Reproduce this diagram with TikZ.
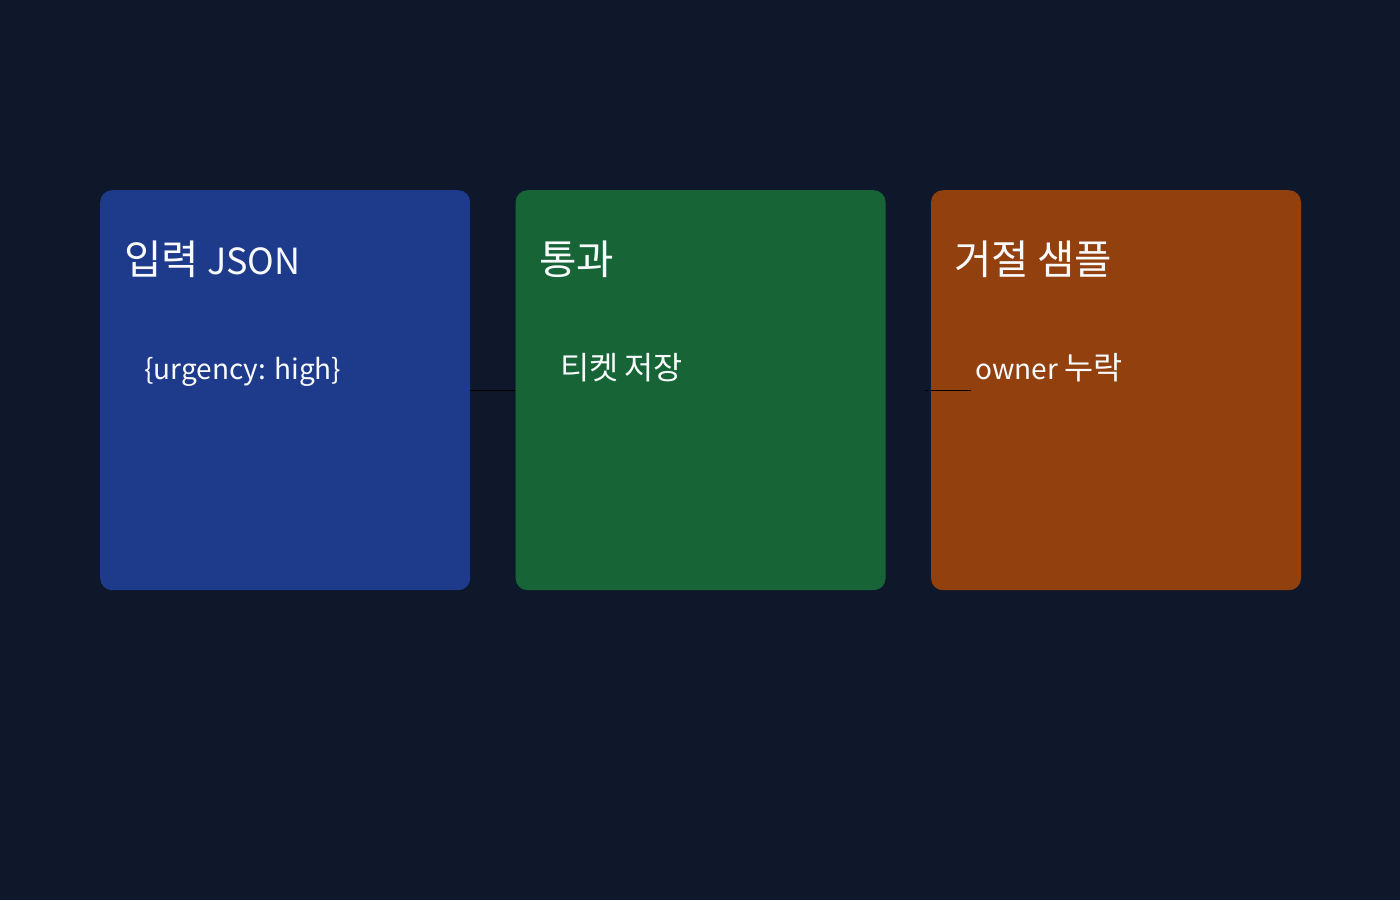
\documentclass[tikz,border=0pt]{standalone}
\usepackage{fontspec}
\setmainfont{Noto Sans CJK KR}
\newfontfamily\hwfont[Scale=1.13]{Noto Sans CJK KR}
\newcommand{\hw}[1]{{\hwfont #1}}
\usetikzlibrary{positioning}
\definecolor{bgnavy}{HTML}{0F172A}
\definecolor{inblue}{HTML}{1E3A8A}
\definecolor{passgreen}{HTML}{176537}
\definecolor{rejorange}{HTML}{92400E}
\definecolor{txtwhite}{HTML}{F8FAFC}
\begin{document}
\begin{tikzpicture}[x=1pt, y=-1pt, node distance={45pt},
  card/.style = {rounded corners=12pt, minimum width=370pt, minimum height=400pt, inner sep=0pt, draw=none},
  head/.style = {anchor=base west, inner sep=0pt, text=txtwhite, font=\fontsize{36}{40}\selectfont},
  body/.style = {anchor=base west, inner sep=0pt, text=txtwhite, font=\fontsize{28}{32}\selectfont},
  link/.style = {draw=black, line width=1pt}]
\fill[bgnavy] (0,0) rectangle (1400,900);
\useasboundingbox (0,0) rectangle (1400,900);
\node[card, fill=inblue, anchor=north west] (in1) at (100,190) {};
\node[card, fill=passgreen] (pass1) [right=of in1] {};
\node[card, fill=rejorange] (rej1) [right=of pass1] {};

\node[head] (inhead) at (124,274) {\hw{입력} JSON};
\node[body] (inbody) at (144,379) {\{urgency: high\}};
\node[head] (passhead) at (539,274) {\hw{통과}};
\node[body] (passbody) at (560,379) {\hw{티켓} \hw{저장}};
\node[head] (rejhead) at (954,274) {\hw{거절} \hw{샘플}};
\node[body] (rejbody) at (975,379) {owner \hw{누락}};

\coordinate (gapa) at (925,390);
\coordinate (gapb) at (971,390);
\draw[link] (in1.east) -- (pass1.west);
\draw[link] (gapa) -- (gapb);

\end{tikzpicture}
\end{document}
